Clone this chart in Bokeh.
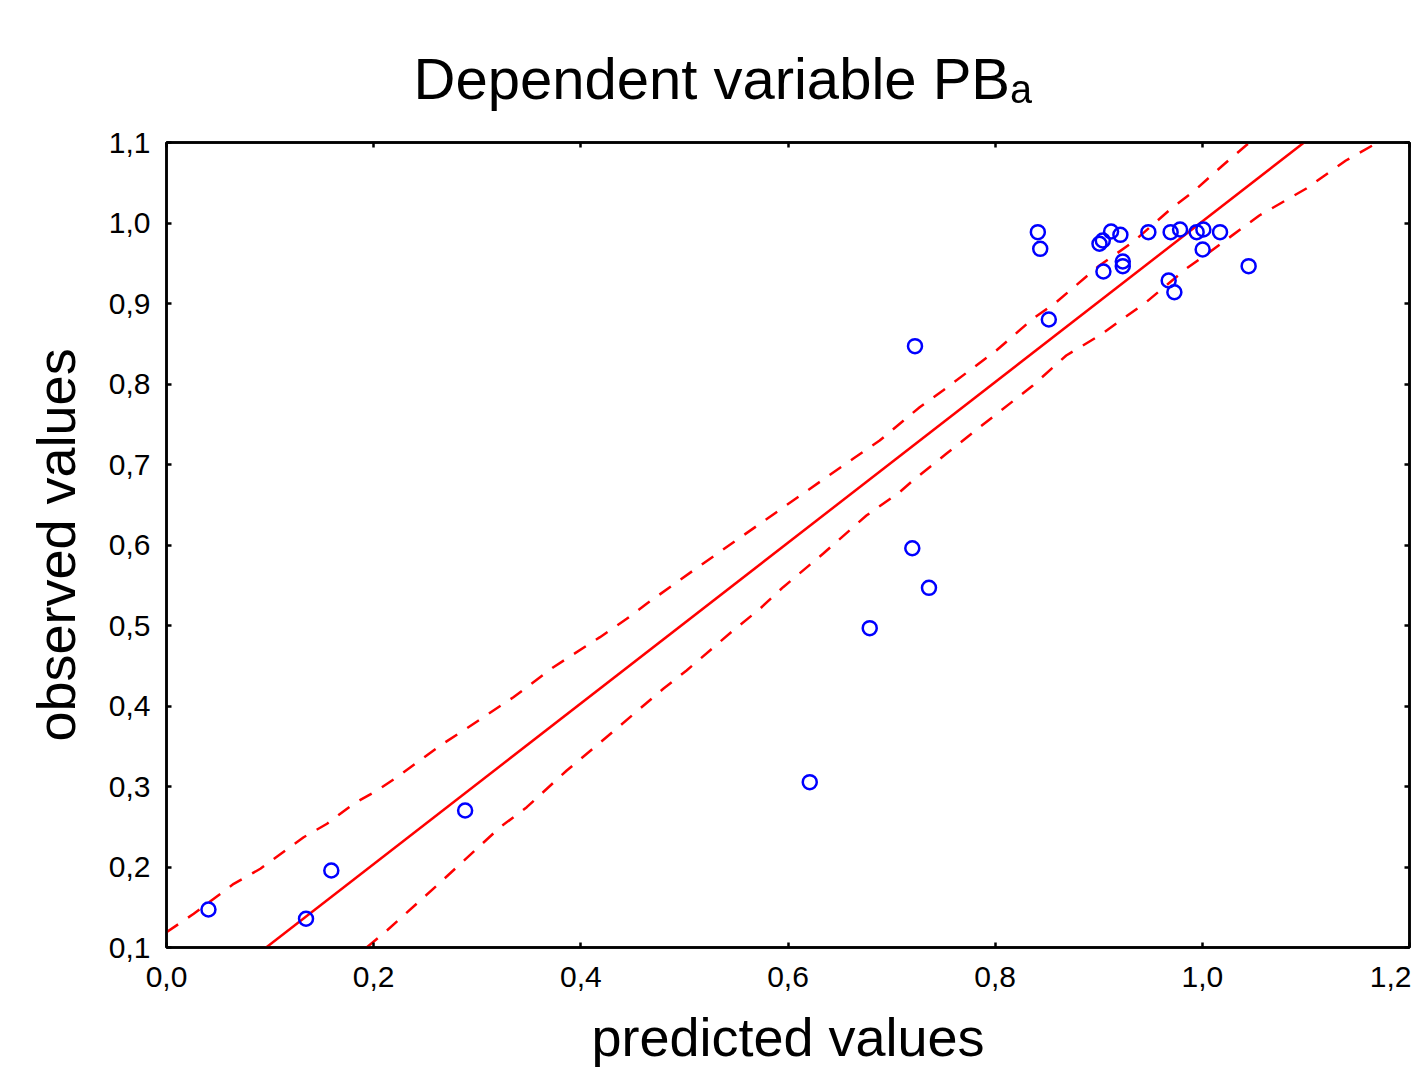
from bokeh.plotting import figure
from bokeh.models import LinearAxis, FixedTicker, Range1d, Title
from bokeh.embed import file_html
from bokeh.resources import INLINE

# ---------------- data ----------------
pred = [0.0405, 0.1347, 0.1591, 0.2883, 0.6210, 0.6789, 0.7200, 0.7361, 0.7226,
        0.8412, 0.8435, 0.8518, 0.9007, 0.9039, 0.9045, 0.9119, 0.9209, 0.9232,
        0.9232, 0.9479, 0.9675, 0.9730, 0.9694, 0.9785, 0.9945, 1.0010, 1.0003,
        1.0171, 1.0447]
obs = [0.1472, 0.1357, 0.1957, 0.2702, 0.3054, 0.4967, 0.5960, 0.5468, 0.8470,
       0.9886, 0.9679, 0.8801, 0.9742, 0.9783, 0.9398, 0.9894, 0.9853, 0.9522,
       0.9464, 0.9886, 0.9286, 0.9140, 0.9886, 0.9919, 0.9886, 0.9919, 0.9671,
       0.9886, 0.9464]

reg_intercept = 0.004
reg_slope = 0.998
reg_x = [0.0, 1.2]

upper_x = [0.0, 0.0263, 0.0649, 0.0906, 0.1324, 0.1550, 0.1806, 0.2032, 0.2225,
           0.2642, 0.2867, 0.3349, 0.3735, 0.4185, 0.4443, 0.4635, 0.5085, 0.5728,
           0.6371, 0.6628, 0.6885, 0.7271, 0.7496, 0.7753, 0.8011, 0.8364, 0.8589,
           0.9007, 0.9328, 0.9714, 0.9907, 1.0196, 1.0421, 1.0460]
upper_y = [0.1190, 0.1419, 0.1791, 0.1978, 0.2370, 0.2537, 0.2785, 0.2950, 0.3116,
           0.3509, 0.3696, 0.4109, 0.4482, 0.4855, 0.5083, 0.5270, 0.5683, 0.6263,
           0.6842, 0.7071, 0.7298, 0.7712, 0.7919, 0.8168, 0.8416, 0.8810, 0.9016,
           0.9472, 0.9761, 1.0196, 1.0383, 1.0714, 1.0963, 1.1000]
lower_x = [0.1935, 0.2128, 0.2610, 0.2803, 0.3221, 0.3478, 0.3864, 0.4153, 0.4796,
           0.5021, 0.5471, 0.5728, 0.5953, 0.6338, 0.6757, 0.7078, 0.7206, 0.7528,
           0.7850, 0.8364, 0.8686, 0.9007, 0.9457, 0.9843, 1.0068, 1.0550, 1.1000,
           1.1386, 1.1642, 1.1690]
lower_y = [0.1004, 0.1211, 0.1770, 0.1998, 0.2494, 0.2743, 0.3199, 0.3509, 0.4214,
           0.4441, 0.4938, 0.5207, 0.5476, 0.5891, 0.6366, 0.6656, 0.6801, 0.7133,
           0.7463, 0.7981, 0.8354, 0.8602, 0.9016, 0.9431, 0.9637, 1.0093, 1.0425,
           1.0776, 1.0963, 1.1000]

x_ticks = [0.0, 0.2, 0.4, 0.6, 0.8, 1.0, 1.2]
x_tick_labels = ["0,0", "0,2", "0,4", "0,6", "0,8", "1,0", "1,2"]
y_ticks = [0.1, 0.2, 0.3, 0.4, 0.5, 0.6, 0.7, 0.8, 0.9, 1.0, 1.1]
y_tick_labels = ["0,1", "0,2", "0,3", "0,4", "0,5", "0,6", "0,7", "0,8", "0,9", "1,0", "1,1"]

title_text = "Dependent variable PB\u2090"
x_label = "predicted values"
y_label = "observed values"

# ---------------- figure ----------------
FONT = "Liberation Sans"
p = figure(width=1411, height=1071, x_range=Range1d(0, 1.2), y_range=Range1d(0.1, 1.1),
           output_backend="svg", toolbar_location=None,
           min_border_left=166, min_border_right=2, min_border_top=142, min_border_bottom=124,
           x_axis_location=None, y_axis_location=None)
p.grid.visible = False
p.outline_line_color = "black"
p.outline_line_width = 2.5
p.background_fill_color = "white"
p.border_fill_color = "white"

def make_axis(ticks, labels, show_labels):
    ax = LinearAxis(ticker=FixedTicker(ticks=ticks))
    ax.major_label_overrides = {t: l for t, l in zip(ticks, labels)}
    ax.major_tick_in = 5
    ax.major_tick_out = 0
    ax.minor_tick_in = 0
    ax.minor_tick_out = 0
    ax.major_tick_line_width = 2.5
    ax.axis_line_width = 2.5
    ax.axis_line_color = "black"
    ax.major_tick_line_color = "black"
    ax.major_label_text_font = FONT
    if show_labels:
        ax.major_label_text_color = "black"
        ax.major_label_text_font_size = "30px"
    else:
        ax.major_label_text_color = None
        ax.major_label_text_font_size = "1px"
        ax.major_label_standoff = 0
    return ax

xb = make_axis(x_ticks, x_tick_labels, True)
xb.major_label_standoff = 19
xb.axis_label = x_label
xb.axis_label_text_font = FONT
xb.axis_label_text_font_size = "54px"
xb.axis_label_text_font_style = "normal"
xb.axis_label_text_color = "black"
xb.axis_label_standoff = 17
p.add_layout(xb, "below")

yl = make_axis(y_ticks, y_tick_labels, True)
yl.major_label_standoff = 16
yl.axis_label = y_label
yl.axis_label_text_font = FONT
yl.axis_label_text_font_size = "54px"
yl.axis_label_text_font_style = "normal"
yl.axis_label_text_color = "black"
yl.axis_label_standoff = 20
p.add_layout(yl, "left")

p.add_layout(make_axis(x_ticks, x_tick_labels, False), "above")
p.add_layout(make_axis(y_ticks, y_tick_labels, False), "right")

p.add_layout(Title(text=title_text, align="left", offset=247, standoff=64,
                   text_font=FONT, text_font_size="58px", text_font_style="normal",
                   text_color="black"), "above")

# regression line and confidence bands
reg_y = [reg_intercept + reg_slope * v for v in reg_x]
p.line(reg_x, reg_y, line_color="#FF0000", line_width=2.5)
p.line(upper_x, upper_y, line_color="#FF0000", line_width=2.5, line_dash="14 12")
p.line(lower_x, lower_y, line_color="#FF0000", line_width=2.5, line_dash="14 12")

# points
p.scatter(pred, obs, marker="circle", size=14, fill_color=None,
          line_color="#0000FF", line_width=2.5)

open("out.html", "w").write(file_html(p, INLINE))
